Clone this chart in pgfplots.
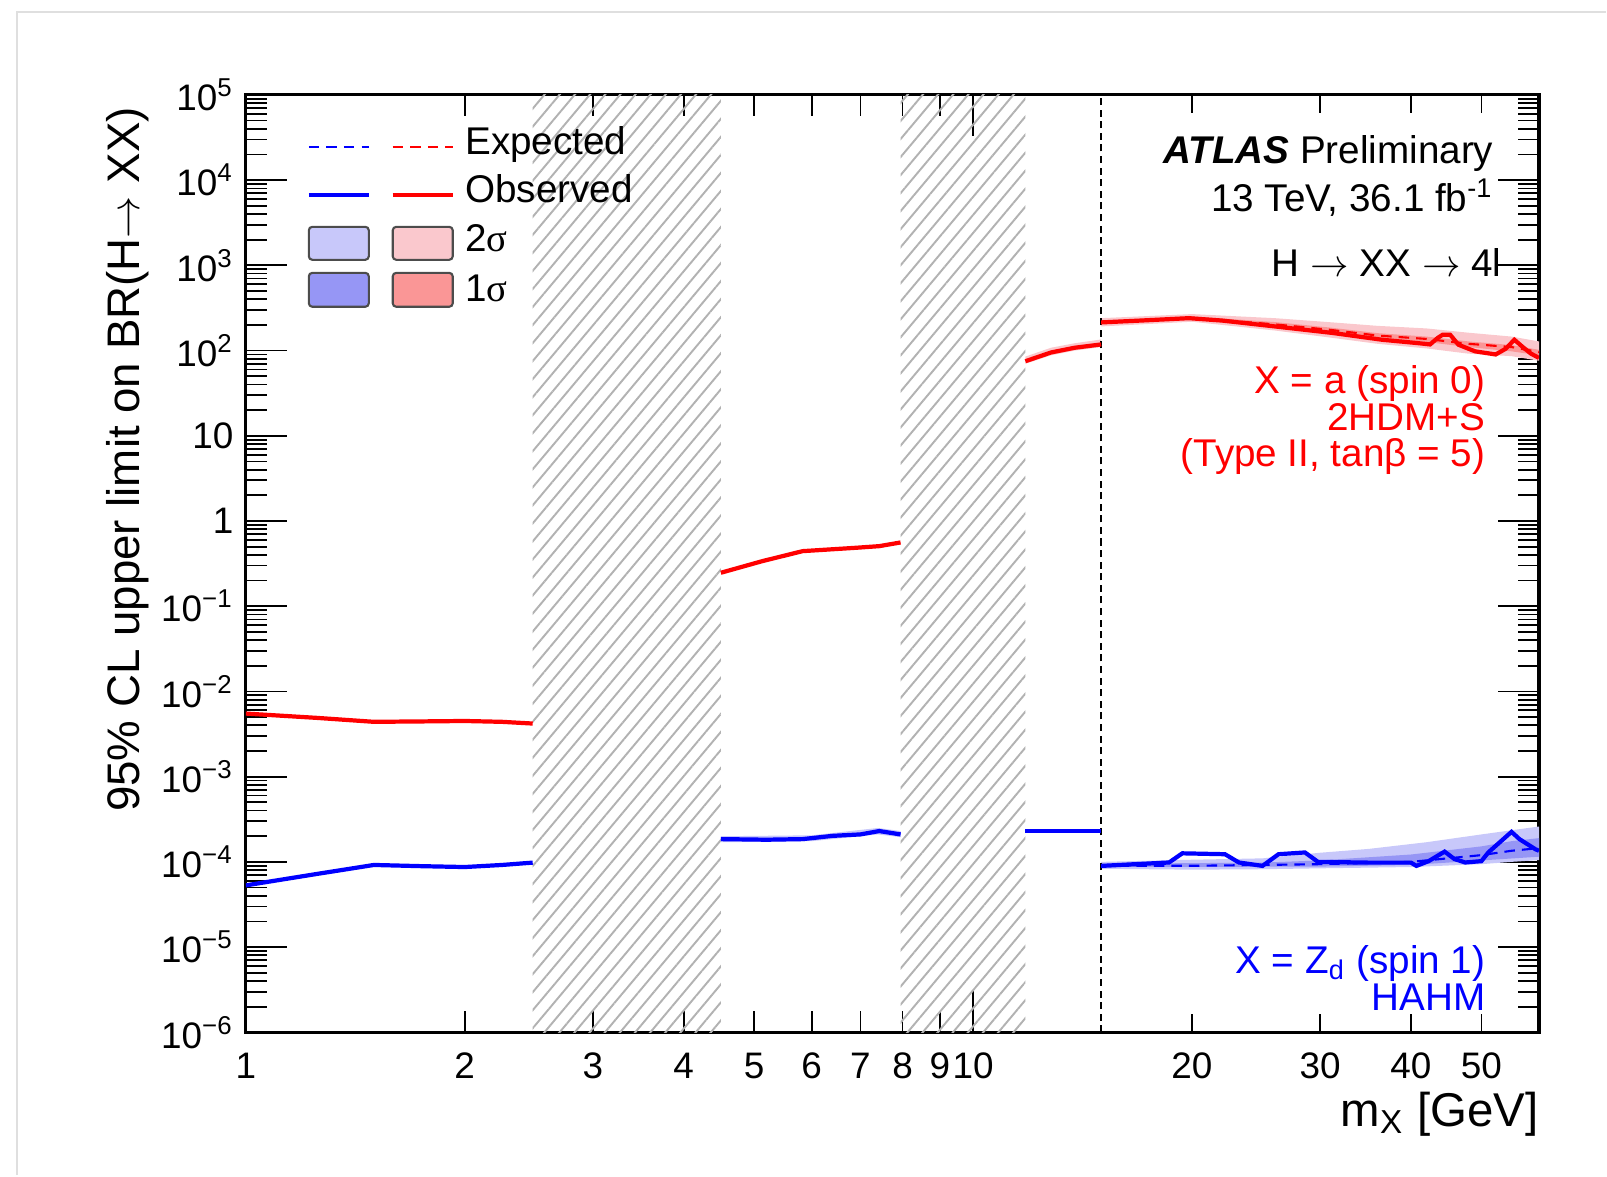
\documentclass[border=0pt]{standalone}
\usepackage{fontspec}
\setmainfont{Liberation Sans}
\newfontfamily\symfont{Liberation Serif}
\usepackage{pgfplots}
\pgfplotsset{compat=1.18}
\usetikzlibrary{patterns.meta}

\definecolor{obsblue}{RGB}{0,0,255}
\definecolor{obsred}{RGB}{255,0,0}
\definecolor{blueTwo}{RGB}{200,200,250}
\definecolor{blueOne}{RGB}{150,150,245}
\definecolor{redTwo}{RGB}{250,200,205}
\definecolor{redOne}{RGB}{250,150,150}

\newcommand{\txt}{\fontsize{11}{13}\selectfont}

\begin{document}
\begin{tikzpicture}
\begin{axis}[
    name=ax,
    scale only axis,
    width=12.94cm, height=9.38cm,
    xmode=log, ymode=log,
    xmin=1, xmax=60, ymin=1e-6, ymax=1e5,
    axis line style={line width=0.9pt},
    tick style={black, line width=0.5pt},
    major tick length=0.41cm, minor tick length=0.21cm,
    xtick={1,10}, xticklabels={1,10},
    extra x ticks={2,3,4,5,6,7,8,9,20,30,40,50},
    extra x tick labels={2,3,4,5,6,7,8,9,20,30,40,50},
    extra x tick style={major tick length=0.18cm},
    ytick={1e-6,1e-5,1e-4,1e-3,1e-2,1e-1,1,10,1e2,1e3,1e4,1e5},
    yticklabels={10\textsuperscript{−6},10\textsuperscript{−5},10\textsuperscript{−4},10\textsuperscript{−3},10\textsuperscript{−2},10\textsuperscript{−1},1,10,10\textsuperscript{2},10\textsuperscript{3},10\textsuperscript{4},10\textsuperscript{5}},
    minor ytick={2e-6,3e-6,4e-6,5e-6,6e-6,7e-6,8e-6,9e-6,
                 2e-5,3e-5,4e-5,5e-5,6e-5,7e-5,8e-5,9e-5,
                 2e-4,3e-4,4e-4,5e-4,6e-4,7e-4,8e-4,9e-4,
                 2e-3,3e-3,4e-3,5e-3,6e-3,7e-3,8e-3,9e-3,
                 2e-2,3e-2,4e-2,5e-2,6e-2,7e-2,8e-2,9e-2,
                 2e-1,3e-1,4e-1,5e-1,6e-1,7e-1,8e-1,9e-1,
                 2,3,4,5,6,7,8,9,
                 20,30,40,50,60,70,80,90,
                 200,300,400,500,600,700,800,900,
                 2e3,3e3,4e3,5e3,6e3,7e3,8e3,9e3,
                 2e4,3e4,4e4,5e4,6e4,7e4,8e4,9e4},
    ticklabel style={font=\fontsize{10.5}{12}\selectfont},
    xticklabel style={yshift=-0.08cm},
]

% excluded mass windows
\addplot[draw=none, pattern={Lines[angle=50, distance=3.3pt, line width=0.55pt]}, pattern color=gray!60]
    coordinates {(2.48,1e-6) (2.48,1e5) (4.5,1e5) (4.5,1e-6)} -- cycle;
\addplot[draw=none, pattern={Lines[angle=50, distance=3.3pt, line width=0.55pt]}, pattern color=gray!60]
    coordinates {(7.95,1e-6) (7.95,1e5) (11.8,1e5) (11.8,1e-6)} -- cycle;

% bands, spin 0
\addplot[fill=redTwo, draw=none] coordinates {
    (11.8,85) (12.8,108) (13.8,122) (15,135)
    (15,110) (13.8,100) (12.8,88) (11.8,70)} -- cycle;
\addplot[fill=redTwo, draw=none] coordinates {
    (15,240) (20,268) (26,240) (31,215) (36,195) (42,182) (48,162) (55,146) (60,128)
    (60,76) (55,86) (48,92) (42,106) (36,120) (31,142) (26,172) (20,218) (15,192)} -- cycle;
\addplot[fill=redOne, draw=none] coordinates {
    (15,224) (20,252) (26,216) (31,186) (36,160) (42,146) (48,128) (55,116) (60,102)
    (60,88) (55,98) (48,110) (42,126) (36,138) (31,162) (26,190) (20,232) (15,206)} -- cycle;

% bands, spin 1
\addplot[fill=blueTwo, draw=none] coordinates {
    (4.5,2.0e-4) (6,2.05e-4) (7.4,2.5e-4) (7.95,2.3e-4)
    (7.95,1.95e-4) (7.4,2.1e-4) (6,1.75e-4) (4.5,1.7e-4)} -- cycle;
\addplot[fill=blueTwo, draw=none] coordinates {
    (15,1.0e-4) (20,1.06e-4) (25,1.1e-4) (30,1.28e-4) (35,1.42e-4) (42,1.7e-4) (50,2.1e-4) (55,2.35e-4) (60,2.6e-4)
    (60,1.05e-4) (55,1.0e-4) (50,9.4e-5) (40,8.7e-5) (30,8.4e-5) (25,8.2e-5) (20,8.1e-5) (15,8.3e-5)} -- cycle;
\addplot[fill=blueOne, draw=none] coordinates {
    (15,9.5e-5) (25,9.8e-5) (30,1.04e-4) (40,1.22e-4) (50,1.52e-4) (55,1.75e-4) (60,1.9e-4)
    (60,1.15e-4) (50,1.04e-4) (40,9.2e-5) (30,8.8e-5) (15,8.7e-5)} -- cycle;

% vertical dashed line
\addplot[black, line width=0.6pt, dash pattern=on 2pt off 1.3pt] coordinates {(15,1e-6) (15,1e5)};

% expected
\addplot[obsred, line width=0.6pt, dash pattern=on 3pt off 2pt] coordinates {
    (15,215) (20,242) (26,203) (31,175) (36,150) (42,137) (48,120) (55,110) (60,96)};
\addplot[obsblue, line width=0.6pt, dash pattern=on 3pt off 2pt] coordinates {
    (15,9e-5) (20,9.0e-5) (25,9.2e-5) (30,9.4e-5) (40,1.0e-4) (50,1.2e-4) (55,1.35e-4) (60,1.45e-4)};

% observed, spin 0
\addplot[obsred, line width=1.2pt] coordinates {
    (1,5.5e-3) (1.25,4.9e-3) (1.5,4.4e-3) (1.75,4.45e-3) (2,4.5e-3) (2.25,4.4e-3) (2.48,4.2e-3)};
\addplot[obsred, line width=1.2pt] coordinates {
    (4.5,0.247) (5.13,0.338) (5.83,0.443) (6.9,0.485) (7.43,0.507) (7.95,0.56)};
\addplot[obsred, line width=1.2pt] coordinates {
    (11.8,75) (12.8,95) (13.8,108) (15,118)};
\addplot[obsred, line width=1.2pt] coordinates {
    (15,214) (17,225) (19.8,240) (22,225) (26,192) (31.2,161) (36.5,134) (41,122) (42.5,118)
    (43.5,140) (44.2,153) (45.3,153) (46.5,117) (49,98) (52.3,90) (54,105) (55.5,134)
    (57,110) (58.5,92) (60,82)};

% observed, spin 1
\addplot[obsblue, line width=1.2pt] coordinates {
    (1,5.3e-5) (1.25,7.2e-5) (1.5,9.2e-5) (1.75,8.9e-5) (2,8.7e-5) (2.25,9.2e-5) (2.48,9.8e-5)};
\addplot[obsblue, line width=1.2pt] coordinates {
    (4.5,1.85e-4) (5.2,1.82e-4) (5.83,1.85e-4) (6.41,2.02e-4) (7.0,2.1e-4) (7.43,2.3e-4) (7.95,2.1e-4)};
\addplot[obsblue, line width=1.2pt] coordinates {
    (11.8,2.3e-4) (15,2.3e-4)};
\addplot[obsblue, line width=1.2pt] coordinates {
    (15,8.97e-5) (18.6,9.84e-5) (19.4,1.26e-4) (22.2,1.23e-4) (23.2,9.84e-5) (25.0,8.97e-5)
    (26.3,1.23e-4) (28.6,1.29e-4) (29.8,1.0e-4) (35,9.8e-5) (40,9.8e-5) (40.7,8.97e-5)
    (42.3,1.02e-4) (44.5,1.32e-4) (45.9,1.08e-4) (47.5,9.84e-5) (50,1.02e-4) (51.1,1.29e-4)
    (55,2.25e-4) (56.4,1.85e-4) (59.3,1.41e-4) (60,1.35e-4)};

% legend
\draw[obsblue, line width=0.6pt, dash pattern=on 3pt off 2pt] (rel axis cs:0.0487,0.9446) -- (rel axis cs:0.0951,0.9446);
\draw[obsred, line width=0.6pt, dash pattern=on 3pt off 2pt] (rel axis cs:0.1136,0.9446) -- (rel axis cs:0.1600,0.9446);
\draw[obsblue, line width=1.2pt] (rel axis cs:0.0487,0.8934) -- (rel axis cs:0.0951,0.8934);
\draw[obsred, line width=1.2pt] (rel axis cs:0.1136,0.8934) -- (rel axis cs:0.1600,0.8934);
\draw[fill=blueTwo, draw=black!70, line width=0.6pt, rounded corners=1pt] (rel axis cs:0.0487,0.8593) rectangle (rel axis cs:0.0951,0.8241);
\draw[fill=redTwo, draw=black!70, line width=0.6pt, rounded corners=1pt] (rel axis cs:0.1136,0.8593) rectangle (rel axis cs:0.1600,0.8241);
\draw[fill=blueOne, draw=black!70, line width=0.6pt, rounded corners=1pt] (rel axis cs:0.0487,0.8102) rectangle (rel axis cs:0.0951,0.7740);
\draw[fill=redOne, draw=black!70, line width=0.6pt, rounded corners=1pt] (rel axis cs:0.1136,0.8102) rectangle (rel axis cs:0.1600,0.7740);
\node[anchor=base west, inner sep=0pt, font=\txt] at (rel axis cs:0.1692,0.9360) {Expected};
\node[anchor=base west, inner sep=0pt, font=\txt] at (rel axis cs:0.1692,0.8849) {Observed};
\node[anchor=base west, inner sep=0pt, font=\txt] at (rel axis cs:0.1692,0.8326) {2{\symfont σ}};
\node[anchor=base west, inner sep=0pt, font=\txt] at (rel axis cs:0.1692,0.7793) {1{\symfont σ}};

% labels
\node[anchor=base east, inner sep=0pt, font=\txt] at (rel axis cs:0.9652,0.9264) {\textbf{\textit{ATLAS}} Preliminary};
\node[anchor=base east, inner sep=0pt, font=\txt] at (rel axis cs:0.9652,0.8753) {13 TeV, 36.1 fb\textsuperscript{-1}};
\node[anchor=base east, inner sep=0pt, font=\txt] at (rel axis cs:0.9714,0.8060) {H $\rightarrow$ XX $\rightarrow$ 4l};
\node[anchor=base east, inner sep=0pt, font=\txt, text=obsred] at (rel axis cs:0.9590,0.6812) {X = a (spin 0)};
\node[anchor=base east, inner sep=0pt, font=\txt, text=obsred] at (rel axis cs:0.9590,0.6418) {2HDM+S};
\node[anchor=base east, inner sep=0pt, font=\txt, text=obsred] at (rel axis cs:0.9590,0.6034) {(Type II, tanβ = 5)};
\node[anchor=base east, inner sep=0pt, font=\txt, text=obsblue] at (rel axis cs:0.9590,0.0629) {X = Z\textsubscript{d} (spin 1)};
\node[anchor=base east, inner sep=0pt, font=\txt, text=obsblue] at (rel axis cs:0.9590,0.0235) {HAHM};
\end{axis}

\node[rotate=90, anchor=east, font=\fontsize{13}{15}\selectfont] at ([xshift=-1.18cm]ax.north west) {95\% CL upper limit on BR(H$\rightarrow$ XX)};
\node[anchor=base east, inner sep=0pt, font=\fontsize{13.5}{15}\selectfont] at ([yshift=-0.94cm]ax.south east) {m\textsubscript{X} [GeV]};

\pgfresetboundingbox
\path ([shift={(-2.46cm,-1.43cm)}]ax.south west) rectangle ([shift={(0.67cm,0.95cm)}]ax.north east);
\draw[gray!25, line width=0.6pt] ([shift={(-2.29cm,-1.43cm)}]ax.south west) -- ([shift={(-2.29cm,0.83cm)}]ax.north west) -- ([shift={(0.67cm,0.83cm)}]ax.north east);
\end{tikzpicture}
\end{document}
